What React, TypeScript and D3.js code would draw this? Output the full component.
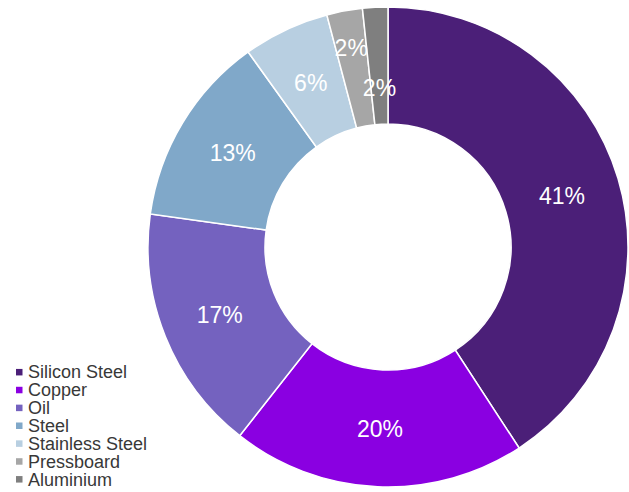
import * as d3 from 'd3';
import { useEffect, useRef } from 'react';

const categories = ['Silicon Steel', 'Copper', 'Oil', 'Steel', 'Stainless Steel', 'Pressboard', 'Aluminium'];
const shares = [40.8, 19.8, 16.6, 12.9, 5.8, 2.4, 1.7];
const colors = ['#4b1f78', '#8a00e1', '#7462bf', '#80a8c9', '#b8cfe1', '#a6a6a6', '#7f7f7f'];

export default function App() {
  const svgRef = useRef(null);

  useEffect(() => {
    if (!svgRef.current) return;
    d3.select(svgRef.current).selectAll('*').remove();

    const width = 629;
    const height = 492;
    const cx = 388;
    const cy = 247;
    const outer = 240;
    const inner = 123;
    const font = 'Liberation Sans, Arial, sans-serif';

    const svg = d3.select(svgRef.current).attr('width', width).attr('height', height);

    const pie = d3.pie<number>().sort(null).value((d) => d);
    const arcs = pie(shares);
    const arc = d3.arc<d3.PieArcDatum<number>>().innerRadius(inner).outerRadius(outer);

    const g = svg.append('g').attr('transform', `translate(${cx},${cy})`);

    g.selectAll('path')
      .data(arcs)
      .join('path')
      .attr('d', arc)
      .attr('fill', (_, i) => colors[i])
      .attr('stroke', '#fff')
      .attr('stroke-width', 1.5);

    // small slices get staggered label radii so they don't collide
    let smallIdx = 0;
    const labelR = arcs.map((a) => {
      if (a.data < 3) {
        const r = smallIdx % 2 === 0 ? 203 : 160;
        smallIdx++;
        return r;
      }
      return (inner + outer) / 2;
    });

    g.selectAll('text.lbl')
      .data(arcs)
      .join('text')
      .attr('class', 'lbl')
      .attr('transform', (d, i) => {
        const a = (d.startAngle + d.endAngle) / 2;
        return `translate(${Math.sin(a) * labelR[i]},${-Math.cos(a) * labelR[i]})`;
      })
      .attr('text-anchor', 'middle')
      .attr('dy', '0.36em')
      .attr('fill', '#fff')
      .attr('font-family', font)
      .attr('font-size', 23)
      .text((d) => `${Math.round(d.data)}%`);

    const legendY = d3
      .scaleBand()
      .domain(categories)
      .range([363, 488]);

    const legend = svg.append('g');
    const items = legend
      .selectAll('g')
      .data(categories)
      .join('g')
      .attr('transform', (d) => `translate(0,${legendY(d)! + legendY.bandwidth() / 2})`);

    items
      .append('rect')
      .attr('x', 16)
      .attr('y', -3)
      .attr('width', 6.5)
      .attr('height', 6.5)
      .attr('fill', (_, i) => colors[i]);

    items
      .append('text')
      .attr('x', 28)
      .attr('dy', '0.36em')
      .attr('fill', '#383838')
      .attr('font-family', font)
      .attr('font-size', 18)
      .text((d) => d);
  }, []);

  return (
    <div style={{ position: 'absolute', left: 0, top: 0, background: '#fff' }}>
      <svg ref={svgRef} style={{ display: 'block' }} />
    </div>
  );
}
